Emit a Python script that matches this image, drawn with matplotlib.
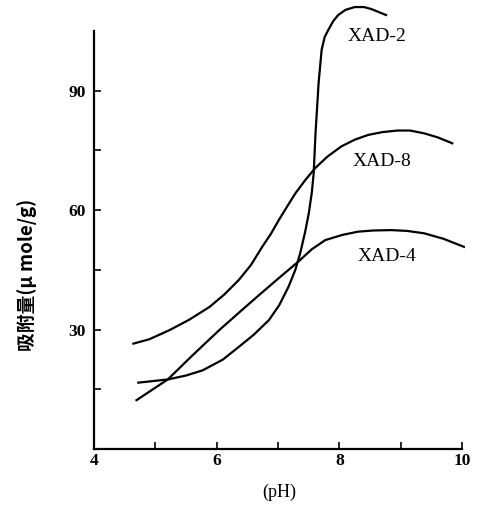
import numpy as np
import matplotlib.pyplot as plt

# readings (pH, adsorption)
ph_xad2 = [4.72, 5.2, 5.5, 5.77, 6.1, 6.36, 6.6, 6.85, 7.02, 7.17, 7.28, 7.36, 7.44, 7.50, 7.55,
           7.58, 7.61, 7.66, 7.71, 7.76, 7.82, 7.90, 7.98, 8.1, 8.25, 8.4, 8.52, 8.76]
val_xad2 = [16.7, 17.5, 18.5, 19.8, 22.5, 25.7, 28.7, 32.4, 36.2, 40.8, 45.0, 49.2, 54.5, 59.2, 64.5,
            69.3, 79.3, 91.9, 100.3, 103.5, 105.3, 107.5, 109.0, 110.3, 111.0, 111.0, 110.5, 109.0]

ph_xad8 = [4.64, 4.9, 5.23, 5.55, 5.88, 6.12, 6.36, 6.56, 6.74, 6.88, 7.01, 7.15, 7.28, 7.44, 7.6,
           7.8, 8.03, 8.25, 8.47, 8.7, 8.95, 9.15, 9.38, 9.6, 9.84]
val_xad8 = [26.5, 27.6, 29.9, 32.5, 35.7, 38.8, 42.5, 46.3, 50.8, 54.0, 57.5, 61.0, 64.2, 67.5, 70.5,
            73.4, 76.0, 77.7, 78.9, 79.6, 80.0, 80.0, 79.3, 78.3, 76.8]

ph_xad4 = [4.69, 5.2, 5.6, 6.04, 6.4, 6.69, 7.0, 7.33, 7.55, 7.77, 8.05, 8.30, 8.55, 8.84, 9.1,
           9.38, 9.7, 10.03]
val_xad4 = [12.3, 17.5, 23.5, 29.9, 34.8, 38.7, 42.8, 47.1, 50.2, 52.5, 53.8, 54.6, 54.9, 55.0, 54.8,
            54.2, 52.8, 50.8]

labels = ["XAD-2", "XAD-8", "XAD-4"]
label_pos = [(8.14, 103.7), (8.22, 72.2), (8.30, 48.3)]

serif = ["Liberation Serif", "DejaVu Serif"]

fig = plt.figure(figsize=(4.83, 5.11), dpi=100)
ax = fig.add_axes([0.195, 0.121, 0.768, 0.873])

for x, y in [(ph_xad2, val_xad2), (ph_xad8, val_xad8), (ph_xad4, val_xad4)]:
    ax.plot(x, y, color="black", lw=1.6, solid_joinstyle="round")

for lab, (px, py) in zip(labels, label_pos):
    ax.text(px, py, lab, fontsize=14, family=serif, ha="left", va="center")

ax.set_xlim(4, 10.05)
ax.set_ylim(0, 112)
ax.spines["top"].set_visible(False)
ax.spines["right"].set_visible(False)
ax.spines["left"].set_bounds(0, 105)
ax.spines["bottom"].set_bounds(4, 10)
ax.spines["left"].set_linewidth(1.6)
ax.spines["bottom"].set_linewidth(1.6)

ax.set_xticks([4, 6, 8, 10])
ax.set_xticks([5, 7, 9], minor=True)
ax.set_yticks([30, 60, 90])
ax.set_yticks([15, 45, 75], minor=True)
ax.tick_params(which="both", direction="in", width=1.2, length=5, labelsize=12.5)
ax.tick_params(axis="y", pad=6)
ax.tick_params(axis="x", pad=3)
for t in ax.get_xticklabels() + ax.get_yticklabels():
    t.set_family(serif)
    t.set_fontweight("bold")

ax.set_xlabel("(pH)", fontsize=13, family=serif, labelpad=10)
ax.set_ylabel("吸附量(μ mole/g)", fontsize=13.5, family=["Noto Sans CJK SC", "DejaVu Sans"],
              fontweight="bold")
ax.yaxis.set_label_coords(-0.155, 0.39)

fig.savefig("out.png", dpi=100)
